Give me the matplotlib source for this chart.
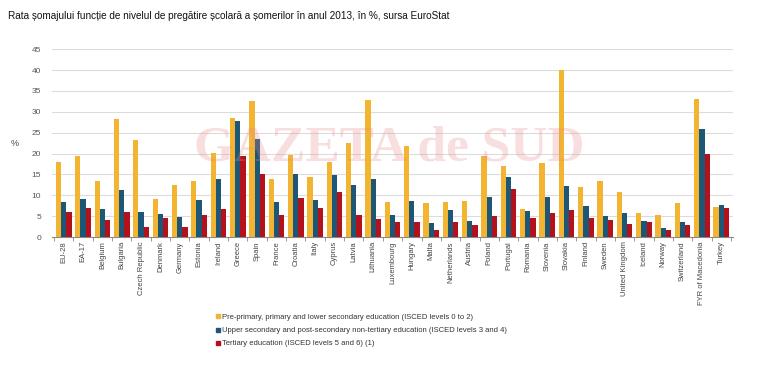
import numpy as np
import matplotlib
matplotlib.use("Agg")
import matplotlib.pyplot as plt
from matplotlib.lines import Line2D

plt.rcParams['font.family'] = ['Liberation Sans', 'DejaVu Sans']

countries = ["EU-28", "EA-17", "Belgium", "Bulgaria", "Czech Republic", "Denmark",
             "Germany", "Estonia", "Ireland", "Greece", "Spain", "France", "Croatia",
             "Italy", "Cyprus", "Latvia", "Lithuania", "Luxembourg", "Hungary", "Malta",
             "Netherlands", "Austria", "Poland", "Portugal", "Romania", "Slovenia",
             "Slovakia", "Finland", "Sweden", "United Kingdom", "Iceland", "Norway",
             "Switzerland", "FYR of Macedonia", "Turkey"]

low_edu = [17.9, 19.3, 13.4, 28.3, 23.3, 9.1, 12.5, 13.5, 20.1, 28.5, 32.7, 13.9, 19.6,
           14.3, 18.0, 22.6, 32.8, 8.5, 21.8, 8.2, 8.5, 8.6, 19.4, 17.1, 6.7, 17.8,
           39.9, 12.1, 13.4, 10.8, 5.7, 5.4, 8.1, 33.1, 7.3]
mid_edu = [8.5, 9.1, 6.7, 11.2, 6.0, 5.5, 4.9, 8.8, 14.0, 27.9, 23.5, 8.4, 15.1,
           8.9, 14.8, 12.5, 13.9, 5.4, 8.7, 3.4, 6.4, 3.9, 9.7, 14.4, 6.3, 9.7,
           12.3, 7.4, 5.1, 5.8, 3.9, 2.2, 3.5, 25.8, 7.8]
high_edu = [5.9, 6.9, 4.2, 6.0, 2.4, 4.5, 2.3, 5.3, 6.7, 19.3, 15.0, 5.3, 9.3,
            6.9, 10.8, 5.4, 4.4, 3.7, 3.5, 1.8, 3.7, 3.0, 5.0, 11.6, 4.5, 5.8,
            6.4, 4.5, 4.0, 3.1, 3.6, 1.7, 3.0, 20.0, 6.9]

labels = ["Pre-primary, primary and lower secondary education (ISCED levels 0 to 2)",
          "Upper secondary and post-secondary non-tertiary education (ISCED levels 3 and 4)",
          "Tertiary education (ISCED levels 5 and 6) (1)"]
colors = ["#F3B431", "#1C5777", "#B3111C"]

fig = plt.figure(figsize=(7.78, 3.67), dpi=100)
ax = fig.add_axes([0.067, 0.354, 0.875, 0.512])

x = np.arange(len(countries))
w = 0.27
for i, vals in enumerate([low_edu, mid_edu, high_edu]):
    ax.bar(x + (i - 1) * w, vals, width=w, color=colors[i], zorder=3)

ax.set_xlim(-0.6, len(countries) - 0.4)
ax.set_ylim(0, 45)
ax.set_yticks(np.arange(0, 46, 5))
ax.grid(axis='y', color='#dcdcdc', linewidth=0.8, zorder=0)
for s in ['top', 'right', 'left']:
    ax.spines[s].set_visible(False)
ax.spines['bottom'].set_color('#8a8a8a')
ax.spines['bottom'].set_linewidth(0.8)

ax.set_xticks(x)
ax.set_xticklabels(countries, rotation=90, fontsize=5.5, color='#444444')
ax.set_xticks(np.arange(-0.5, len(countries)), minor=True)
ax.tick_params(axis='x', which='major', length=0, pad=3)
ax.tick_params(axis='x', which='minor', length=3, color='#8a8a8a')
ax.tick_params(axis='y', length=0, labelsize=6, labelcolor='#555555', pad=8)
ax.set_ylabel('%', rotation=0, fontsize=6.5, color='#444444', labelpad=12, va='center')

# watermark
fig.text(0.5, 0.595, "GAZETA de SUD", fontsize=37, family='Liberation Serif',
         fontweight='bold', color='#e88a8a', alpha=0.28, ha='center', va='center', zorder=10)

fig.text(0.01, 0.956, "Rata șomajului funcție de nivelul de pregătire școlară a șomerilor în anul 2013, în %, sursa EuroStat",
         fontsize=7.2, color='#111111', ha='left', va='center')

handles = [Line2D([0], [0], marker='s', linestyle='none', markersize=2.5,
                  markerfacecolor=c, markeredgecolor=c) for c in colors]
fig.legend(handles, labels, loc='upper left', bbox_to_anchor=(0.277, 0.145),
           frameon=False, fontsize=5.5, handletextpad=0.2, labelspacing=0.75,
           handlelength=0.6, labelcolor='#333333', borderaxespad=0, borderpad=0)

fig.savefig("out.png", dpi=100)
